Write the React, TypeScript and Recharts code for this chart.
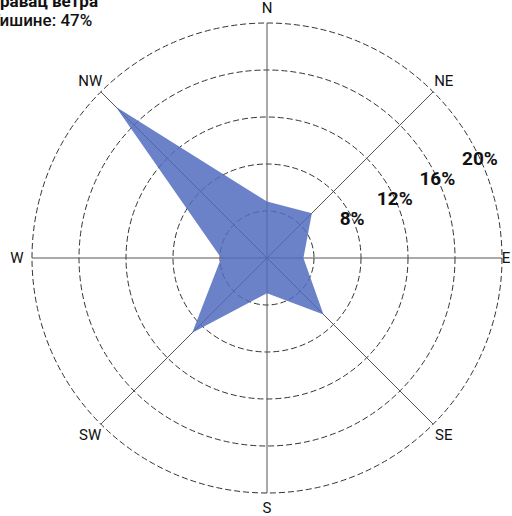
import React from 'react';
import {
  RadarChart,
  Radar,
  PolarGrid,
  PolarAngleAxis,
  PolarRadiusAxis,
} from 'recharts';

// Wind direction frequency, percent
const directions = ['N', 'NE', 'E', 'SE', 'S', 'SW', 'W', 'NW'];
const frequency = [4.8, 5.4, 3.1, 6.8, 3.0, 9.0, 3.9, 18.2];
const radiusTicks = [0, 4, 8, 12, 16, 20];
const labelledTicks = [8, 12, 16, 20];

const data = directions.map((dir, i) => ({ dir, value: frequency[i] }));

const FONT = 'Roboto, "DejaVu Sans", sans-serif';

const AngleTick = (props: any) => {
  const { cx, cy, payload } = props;
  const angle = (payload.coordinate * Math.PI) / 180;
  let r = 250;
  if (payload.value === 'E') r = 239;
  const x = cx + r * Math.cos(angle);
  const y = cy - r * Math.sin(angle);
  return (
    <text
      x={x}
      y={y}
      textAnchor="middle"
      dominantBaseline="central"
      fontSize={15}
      fontFamily={FONT}
      fill="#111"
    >
      {payload.value}
    </text>
  );
};

const RadiusTick = (props: any) => {
  const { x, y, payload } = props;
  if (!labelledTicks.includes(payload.value)) return null;
  return (
    <text
      x={x}
      y={y}
      textAnchor="middle"
      dominantBaseline="central"
      fontSize={19}
      fontWeight="bold"
      fontFamily={FONT}
      fill="#111"
    >
      {payload.value}%
    </text>
  );
};

export default function App() {
  return (
    <div style={{ position: 'absolute', left: 0, top: 0, width: 512, height: 516, background: '#fff' }}>
      <RadarChart
        width={512}
        height={516}
        data={data}
        cx={267}
        cy={258}
        outerRadius={235}
        startAngle={90}
        endAngle={-270}
        margin={{ top: 0, right: 0, bottom: 0, left: 0 }}
      >
        <PolarGrid
          gridType="circle"
          radialLines={false}
          stroke="#333"
          strokeDasharray="6 3"
        />
        <PolarGrid gridType="circle" polarRadius={[]} radialLines stroke="#555" />
        <Radar
          dataKey="value"
          fill="#516cbe"
          fillOpacity={0.85}
          stroke="none"
          isAnimationActive={false}
        />
        <PolarAngleAxis dataKey="dir" tick={<AngleTick />} tickLine={false} axisLine={false} />
        <PolarRadiusAxis
          angle={25}
          domain={[0, 20]}
          ticks={radiusTicks as any}
          tickCount={6}
          axisLine={false}
          tick={<RadiusTick />}
        />
        <text x={-12} y={7} fontSize={17} fontWeight="bold" fontFamily={FONT} fill="#111">
          Правац ветра
        </text>
        <text x={-10} y={26} fontSize={17} fontWeight={500} fontFamily={FONT} fill="#111">
          Тишине: 47%
        </text>
      </RadarChart>
    </div>
  );
}
